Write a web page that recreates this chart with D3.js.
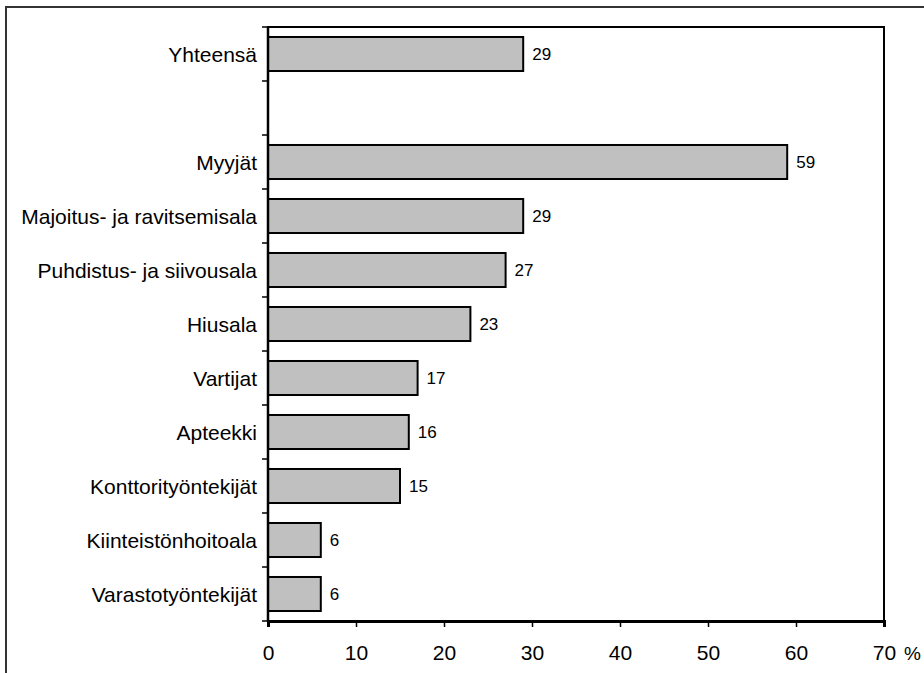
<!DOCTYPE html>
<html lang="fi">
<head>
    <meta charset="utf-8">
    <title>Ammattialat</title>
    <script src="https://d3js.org/d3.v7.min.js"></script>
    <style>
        body{
            margin: 0;
            background-color: white;
        }
        svg{
            display: block;
        }
        text{
            font-family: "Liberation Sans", Arial, sans-serif;
            fill: #000;
        }
    </style>
</head>
<body>
    <div id="chart"></div>
    <script>

    // categories from top to bottom ("" is the empty gap row)
    var categories = ["Yhteensä", "", "Myyjät", "Majoitus- ja ravitsemisala", "Puhdistus- ja siivousala",
        "Hiusala", "Vartijat", "Apteekki", "Konttorityöntekijät", "Kiinteistönhoitoala", "Varastotyöntekijät"]
    var values = [29, null, 59, 29, 27, 23, 17, 16, 15, 6, 6]
    var xTicks = [0, 10, 20, 30, 40, 50, 60, 70]

    var width = 924
    var height = 673
    var plot = {left: 268, top: 27, right: 884, bottom: 621}

    var data = categories.map(function(c, i){ return {key: i, name: c, value: values[i]} })

    var svg = d3.select("#chart")
      .append("svg")
        .attr("width", width)
        .attr("height", height)

    // outer frame (cut by the picture edges)
    svg.append("path")
        .attr("d", "M6," + height + "V7H" + width)
        .attr("fill", "none")
        .attr("stroke", "#333")
        .attr("stroke-width", 2)

    var x = d3.scaleLinear()
        .domain([0, 70])
        .range([plot.left, plot.right])

    var y = d3.scaleBand()
        .domain(data.map(d => d.key))
        .range([plot.top, plot.bottom])
        .paddingInner(0.37)
        .paddingOuter(0.185)

    // plot area frame
    svg.append("rect")
        .attr("x", plot.left)
        .attr("y", plot.top)
        .attr("width", plot.right - plot.left)
        .attr("height", plot.bottom - plot.top)
        .attr("fill", "white")
        .attr("stroke", "#000")
        .attr("stroke-width", 2)

    // bars
    svg.append("g")
        .selectAll("rect")
        .data(data.filter(d => d.value != null))
        .enter()
        .append("rect")
            .attr("x", x(0))
            .attr("y", d => y(d.key))
            .attr("width", d => x(d.value) - x(0))
            .attr("height", y.bandwidth())
            .attr("fill", "#c0c0c0")
            .attr("stroke", "#000")
            .attr("stroke-width", 2)

    // value labels
    svg.append("g")
        .selectAll("text")
        .data(data.filter(d => d.value != null))
        .enter()
        .append("text")
            .attr("x", d => x(d.value) + 9)
            .attr("y", d => y(d.key) + y.bandwidth() / 2)
            .attr("dy", "0.35em")
            .style("font-size", "17px")
            .text(d => d.value)

    // category axis: ticks between categories
    var step = y.step()
    var edges = d3.range(categories.length + 1).map(i => plot.top + i * step)
    svg.append("g")
        .selectAll("line")
        .data(edges)
        .enter()
        .append("line")
            .attr("x1", plot.left - 6)
            .attr("x2", plot.left)
            .attr("y1", d => d)
            .attr("y2", d => d)
            .attr("stroke", "#000")
            .attr("stroke-width", 1.5)

    svg.append("line")
        .attr("x1", plot.left).attr("x2", plot.left)
        .attr("y1", plot.top).attr("y2", plot.bottom)
        .attr("stroke", "#000").attr("stroke-width", 2.5)

    svg.append("g")
        .selectAll("text")
        .data(data)
        .enter()
        .append("text")
            .attr("x", 257)
            .attr("y", d => y(d.key) + y.bandwidth() / 2)
            .attr("dy", "0.36em")
            .style("text-anchor", "end")
            .style("font-size", "21px")
            .text(d => d.name)

    // value axis
    var xAxis = svg.append("g")
        .attr("transform", "translate(0," + plot.bottom + ")")
        .call(d3.axisBottom(x).tickValues(xTicks).tickSize(6).tickFormat(d3.format("d")))

    xAxis.select(".domain")
        .attr("stroke", "#000")
        .attr("stroke-width", 3)
    xAxis.selectAll(".tick line")
        .attr("stroke-width", 1.5)
    xAxis.selectAll(".tick text")
        .attr("y", 39)
        .attr("dy", null)
        .style("font-size", "21px")
        .style("font-family", "'Liberation Sans', Arial, sans-serif")

    svg.append("text")
        .attr("x", 921)
        .attr("y", plot.bottom + 39)
        .style("text-anchor", "end")
        .style("font-size", "19px")
        .text("%")

    </script>
</body>
</html>
